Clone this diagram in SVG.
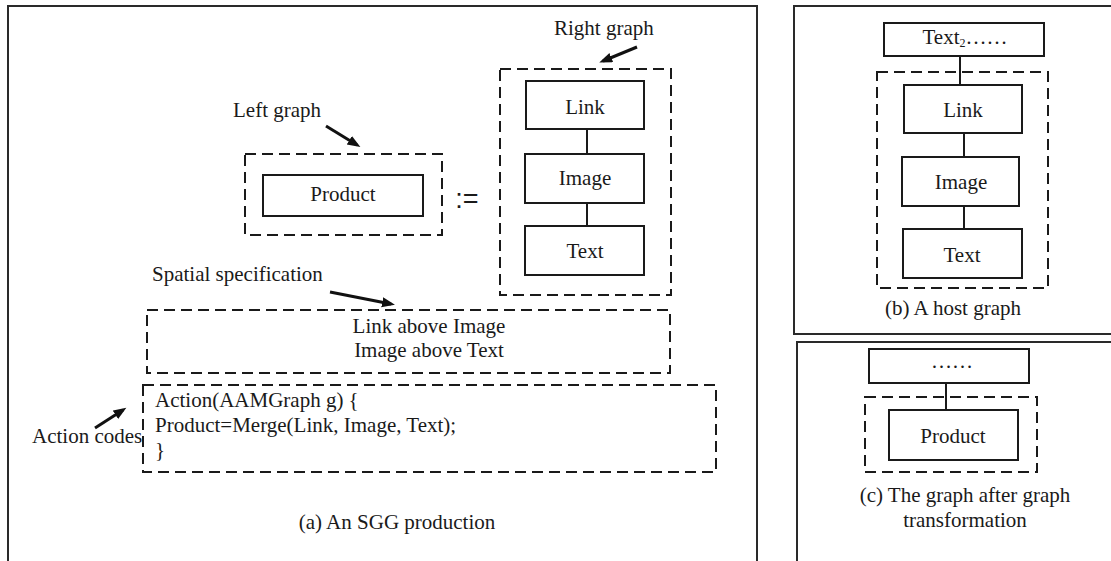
<svg xmlns="http://www.w3.org/2000/svg" width="1111" height="561" viewBox="0 0 1111 561">
  <defs>
    <style>
      text { font-family: "Liberation Serif", "Times New Roman", serif; font-size: 21px; fill: #1a1a1a; }
      .mid { text-anchor: middle; }
      .op { font-family: "Liberation Sans", Arial, sans-serif; font-size: 27px; }
      .frame { fill: none; stroke: #2a2a2a; stroke-width: 2; }
      .box { fill: #fff; stroke: #1a1a1a; stroke-width: 2; }
      .dash { fill: none; stroke: #1a1a1a; stroke-width: 2; stroke-dasharray: 11 6; }
      .edge { stroke: #1a1a1a; stroke-width: 2; fill: none; }
      .ptr { stroke: #111; stroke-width: 3; fill: none; marker-end: url(#head); }
    </style>
    <marker id="head" markerUnits="userSpaceOnUse" markerWidth="14" markerHeight="12" refX="9" refY="5" orient="auto">
      <path d="M0,0 L13,5 L0,10 z" fill="#111"/>
    </marker>
  </defs>

  <!-- panel frames -->
  <g id="frames">
    <polyline class="frame" points="8,570 8,6 757,6 757,570"/>
    <polyline class="frame" points="1120,6 794,6 794,334 1120,334"/>
    <polyline class="frame" points="1120,342 797,342 797,570"/>
  </g>

  <!-- (a) production -->
  <g id="left-graph">
    <rect class="dash" x="245" y="154" width="197" height="81"/>
    <text x="233" y="117">Left graph</text>
  </g>
  <g id="a-product">
    <rect class="box" x="263" y="175" width="160" height="41"/>
    <text class="mid" x="343" y="201">Product</text>
  </g>
  <g id="assign">
    <text class="mid op" x="467" y="208">:=</text>
  </g>
  <g id="right-graph">
    <rect class="dash" x="500" y="69" width="171" height="226"/>
    <text x="554" y="35">Right graph</text>
  </g>
  <g id="a-link">
    <rect class="box" x="526" y="81" width="118" height="48"/>
    <text class="mid" x="585" y="114">Link</text>
  </g>
  <g id="a-image">
    <rect class="box" x="525" y="154" width="119" height="49"/>
    <text class="mid" x="585" y="185">Image</text>
  </g>
  <g id="a-text">
    <rect class="box" x="525" y="226" width="119" height="49"/>
    <text class="mid" x="585" y="258">Text</text>
  </g>
  <g id="spatial-spec">
    <text x="152" y="281">Spatial specification</text>
    <rect class="dash" x="147" y="310" width="523" height="63"/>
    <text class="mid" x="429" y="333">Link above Image</text>
    <text class="mid" x="429" y="357">Image above Text</text>
  </g>
  <g id="action-codes">
    <text x="32" y="443">Action codes</text>
    <rect class="dash" x="143" y="385" width="573" height="87"/>
    <text x="155" y="407">Action(AAMGraph g) {</text>
    <text x="155" y="432">Product=Merge(Link, Image, Text);</text>
    <text x="155" y="457">}</text>
  </g>
  <g id="caption-a">
    <text class="mid" x="397" y="529">(a) An SGG production</text>
  </g>

  <!-- (b) host graph -->
  <g id="b-text2">
    <rect class="box" x="884" y="23" width="160" height="33"/>
    <text class="mid" x="965" y="44">Text<tspan font-size="12" dy="3">2</tspan><tspan dy="-3">……</tspan></text>
  </g>
  <g id="b-match">
    <rect class="dash" x="877" y="72" width="171" height="216"/>
  </g>
  <g id="b-link">
    <rect class="box" x="904" y="85" width="118" height="48"/>
    <text class="mid" x="963" y="117">Link</text>
  </g>
  <g id="b-image">
    <rect class="box" x="902" y="157" width="117" height="49"/>
    <text class="mid" x="961" y="189">Image</text>
  </g>
  <g id="b-text">
    <rect class="box" x="903" y="229" width="119" height="49"/>
    <text class="mid" x="962" y="262">Text</text>
  </g>
  <g id="caption-b">
    <text class="mid" x="953" y="315">(b) A host graph</text>
  </g>

  <!-- (c) result graph -->
  <g id="c-rest">
    <rect class="box" x="869" y="349" width="160" height="34"/>
    <text class="mid" x="952" y="368">……</text>
  </g>
  <g id="c-match">
    <rect class="dash" x="865" y="397" width="172" height="75"/>
  </g>
  <g id="c-product">
    <rect class="box" x="889" y="410" width="129" height="50"/>
    <text class="mid" x="953" y="443">Product</text>
  </g>
  <g id="caption-c">
    <text class="mid" x="965" y="502">(c) The graph after graph</text>
    <text class="mid" x="965" y="527">transformation</text>
  </g>

  <!-- connectors -->
  <g id="connectors">
    <line class="edge" x1="587" y1="129" x2="587" y2="154"/>
    <line class="edge" x1="587" y1="203" x2="587" y2="226"/>
    <line class="edge" x1="960" y1="56" x2="960" y2="85"/>
    <line class="edge" x1="964" y1="133" x2="964" y2="157"/>
    <line class="edge" x1="964" y1="206" x2="964" y2="229"/>
    <line class="edge" x1="946" y1="383" x2="946" y2="410"/>
    <line class="ptr" x1="326" y1="126" x2="357" y2="145"/>
    <line class="ptr" x1="637" y1="47" x2="603" y2="61"/>
    <line class="ptr" x1="330" y1="292" x2="391" y2="304"/>
    <line class="ptr" x1="95" y1="428" x2="123" y2="410"/>
  </g>
</svg>
